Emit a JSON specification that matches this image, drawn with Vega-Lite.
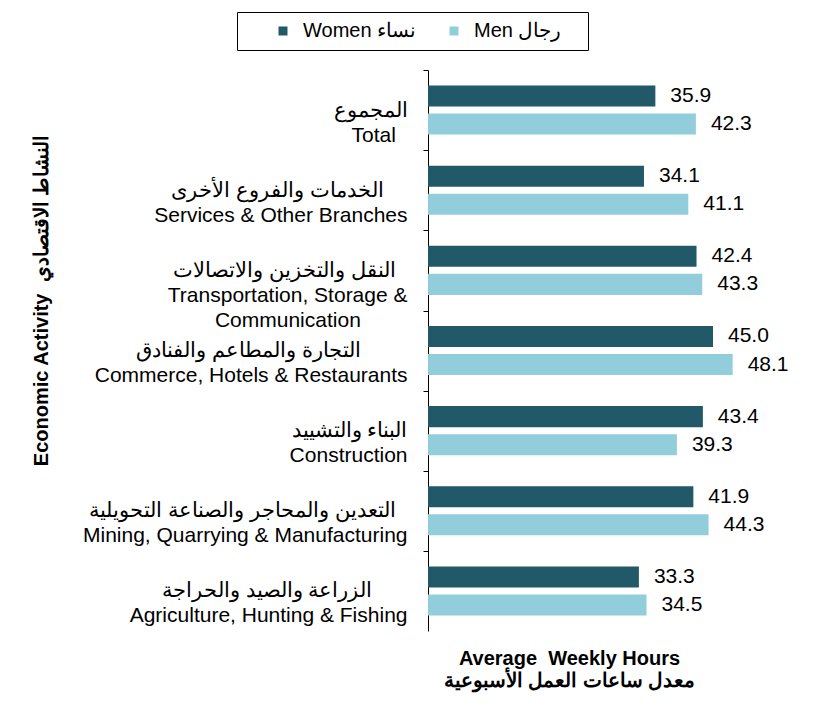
{
  "$schema": "https://vega.github.io/schema/vega-lite/v6.json",
  "width": 380,
  "height": 561,
  "autosize": "none",
  "padding": {"left": 428, "top": 70, "right": 8, "bottom": 81},
  "background": "white",
  "config": {"font": "Liberation Sans", "view": {"stroke": null}},
  "data": {"values": [
    {"activity": "المجموع|Total", "sex": "Women نساء", "hours": 35.9},
    {"activity": "المجموع|Total", "sex": "Men رجال", "hours": 42.3},
    {"activity": "الخدمات والفروع الأخرى|Services & Other Branches", "sex": "Women نساء", "hours": 34.1},
    {"activity": "الخدمات والفروع الأخرى|Services & Other Branches", "sex": "Men رجال", "hours": 41.1},
    {"activity": "النقل والتخزين والاتصالات|Transportation, Storage &|Communication", "sex": "Women نساء", "hours": 42.4},
    {"activity": "النقل والتخزين والاتصالات|Transportation, Storage &|Communication", "sex": "Men رجال", "hours": 43.3},
    {"activity": "التجارة والمطاعم والفنادق|Commerce, Hotels & Restaurants", "sex": "Women نساء", "hours": 45.0},
    {"activity": "التجارة والمطاعم والفنادق|Commerce, Hotels & Restaurants", "sex": "Men رجال", "hours": 48.1},
    {"activity": "البناء والتشييد|Construction", "sex": "Women نساء", "hours": 43.4},
    {"activity": "البناء والتشييد|Construction", "sex": "Men رجال", "hours": 39.3},
    {"activity": "التعدين والمحاجر والصناعة التحويلية|Mining, Quarrying & Manufacturing", "sex": "Women نساء", "hours": 41.9},
    {"activity": "التعدين والمحاجر والصناعة التحويلية|Mining, Quarrying & Manufacturing", "sex": "Men رجال", "hours": 44.3},
    {"activity": "الزراعة والصيد والحراجة|Agriculture, Hunting & Fishing", "sex": "Women نساء", "hours": 33.3},
    {"activity": "الزراعة والصيد والحراجة|Agriculture, Hunting & Fishing", "sex": "Men رجال", "hours": 34.5}
  ]},
  "encoding": {
    "y": {
      "field": "activity",
      "type": "nominal",
      "sort": null,
      "scale": {"paddingInner": 0, "paddingOuter": 0},
      "axis": {
        "labelExpr": "indexof(datum.value,'Total')>=0 ? split(datum.value + '\u00a0\u00a0\u200b', '|') : indexof(datum.value,'Services')>=0 ? split(replace(datum.value, '|', '\u00a0\u00a0\u00a0\u00a0\u200b|'), '|') : indexof(datum.value,'Transportation')>=0 ? split(replace(datum.value, '|', '\u00a0\u00a0\u200b|') + '\u00a0\u00a0\u00a0\u00a0\u00a0\u00a0\u00a0\u00a0\u200b', '|') : indexof(datum.value,'Commerce')>=0 ? split(replace(datum.value, '|', '\u00a0\u00a0\u00a0\u00a0\u00a0\u00a0\u00a0\u00a0\u200b|'), '|') : indexof(datum.value,'Mining')>=0 ? split(replace(datum.value, '|', '\u00a0\u00a0\u200b|'), '|') : indexof(datum.value,'Agriculture')>=0 ? split(replace(datum.value, '|', '\u00a0\u00a0\u00a0\u00a0\u00a0\u00a0\u200b|'), '|') : split(datum.value, '|')",
        "labelFontSize": 21,
        "labelColor": "black",
        "labelLineHeight": 25,
        "labelBaseline": "middle",
        "labelAlign": "right",
        "labelPadding": 16,
        "tickOffset": -40,
        "labelOffset": 40,
        "tickSize": 5,
        "tickColor": "black",
        "domainColor": "black",
        "labelLimit": 400,
        "grid": false,
        "title": "Economic Activity\u00a0\u00a0النشاط الاقتصادي",
        "titleFontSize": 20,
        "titleFontWeight": "bold",
        "titleColor": "black",
        "titleX": -377,
        "titleY": 230
      }
    },
    "yOffset": {
      "field": "sex",
      "type": "nominal",
      "sort": ["Women نساء", "Men رجال"],
      "scale": {"paddingInner": 0.25, "paddingOuter": 0.554}
    },
    "x": {
      "field": "hours",
      "type": "quantitative",
      "scale": {"domain": [0, 60], "nice": false},
      "axis": {
        "domain": false,
        "ticks": false,
        "labels": false,
        "grid": false,
        "title": ["Average\u00a0 Weekly Hours", "معدل ساعات العمل الأسبوعية"],
        "titleFontSize": 20,
        "titleFontWeight": "bold",
        "titleColor": "black",
        "titleLineHeight": 22,
        "titleX": 141,
        "titlePadding": 17
      }
    }
  },
  "layer": [
    {
      "mark": {"type": "bar"},
      "encoding": {
        "color": {
          "field": "sex",
          "type": "nominal",
          "sort": ["Women نساء", "Men رجال"],
          "scale": {"domain": ["Women نساء", "Men رجال"], "range": ["#215968", "#92CDDC"]},
          "legend": {
            "orient": "none",
            "legendX": -191,
            "legendY": -58,
            "direction": "horizontal",
            "title": null,
            "strokeColor": "black",
            "padding": 9,
            "symbolType": "square",
            "symbolSize": 81,
            "symbolOffset": 27,
            "labelOffset": 10,
            "columnPadding": 0,
            "labelFontSize": 20,
            "labelColor": "black",
            "labelLimit": 300,
            "labelExpr": "datum.label + (datum.value == 'Men رجال' ? '\u00a0\u00a0\u00a0\u200b' : '')"
          }
        }
      }
    },
    {
      "mark": {"type": "text", "align": "left", "baseline": "middle", "dx": 15, "fontSize": 21, "color": "black"},
      "encoding": {
        "text": {"field": "hours", "type": "quantitative", "format": ".1f"}
      }
    }
  ]
}
